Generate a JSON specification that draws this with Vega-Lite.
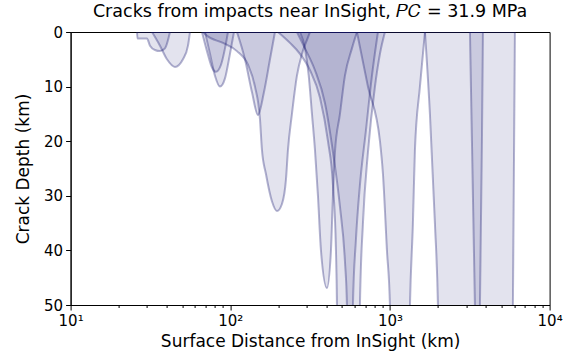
{
  "$schema": "https://vega.github.io/schema/vega-lite/v6.json",
  "width": 479,
  "height": 273,
  "autosize": {"type": "none"},
  "padding": {"left": 70.6, "top": 32, "right": 15.4, "bottom": 51},
  "background": "white",
  "title": {"text": "Cracks from impacts near InSight, 𝑃𝐶 = 31.9 MPa", "font": "DejaVu Sans", "fontSize": 17.5, "fontWeight": "normal", "color": "black", "anchor": "middle", "offset": 5},
  "config": {
    "view": {"stroke": "black", "strokeWidth": 1},
    "axis": {"domainColor": "black", "tickColor": "black", "labelColor": "black", "titleColor": "black", "labelFont": "DejaVu Sans", "titleFont": "DejaVu Sans", "labelFontSize": 15, "titleFontSize": 17, "titleFontWeight": "normal", "grid": false}
  },
  "data": {"values": [
    {"s": "A", "d": 26.05, "z": 0}, {"s": "A", "d": 26.24, "z": 1.2}, {"s": "A", "d": 30.09, "z": 1.2}, {"s": "A", "d": 31.42, "z": 2.5}, {"s": "A", "d": 33.77, "z": 3.3}, {"s": "A", "d": 36.29, "z": 3.5}, {"s": "A", "d": 39.0, "z": 3.0}, {"s": "A", "d": 41.92, "z": 0},
    {"s": "B", "d": 32.34, "z": 0}, {"s": "B", "d": 36.29, "z": 2.5}, {"s": "B", "d": 40.14, "z": 5}, {"s": "B", "d": 45.05, "z": 6.4}, {"s": "B", "d": 50.56, "z": 5}, {"s": "B", "d": 54.34, "z": 2.5}, {"s": "B", "d": 55.94, "z": 0},
    {"s": "C", "d": 66.49, "z": 0}, {"s": "C", "d": 71.47, "z": 3.5}, {"s": "C", "d": 76.8, "z": 6.5}, {"s": "C", "d": 81.37, "z": 7.3}, {"s": "C", "d": 87.49, "z": 6}, {"s": "C", "d": 92.66, "z": 3}, {"s": "C", "d": 96.74, "z": 0},
    {"s": "D", "d": 69.43, "z": 0}, {"s": "D", "d": 74.62, "z": 4}, {"s": "D", "d": 80.2, "z": 8}, {"s": "D", "d": 86.23, "z": 10}, {"s": "D", "d": 92.66, "z": 8.5}, {"s": "D", "d": 99.57, "z": 4}, {"s": "D", "d": 105.5, "z": 0},
    {"s": "E", "d": 110.1, "z": 0}, {"s": "E", "d": 123.6, "z": 5}, {"s": "E", "d": 136.7, "z": 11}, {"s": "E", "d": 149.1, "z": 15.2}, {"s": "E", "d": 162.6, "z": 11}, {"s": "E", "d": 177.3, "z": 5}, {"s": "E", "d": 190.5, "z": 0},
    {"s": "F", "d": 67.45, "z": 0}, {"s": "F", "d": 71.47, "z": 0.7}, {"s": "F", "d": 90.04, "z": 2}, {"s": "F", "d": 110.1, "z": 3.5}, {"s": "F", "d": 129.1, "z": 6}, {"s": "F", "d": 142.8, "z": 10}, {"s": "F", "d": 153.5, "z": 16}, {"s": "F", "d": 157.9, "z": 21.6}, {"s": "F", "d": 167.3, "z": 26}, {"s": "F", "d": 182.4, "z": 31}, {"s": "F", "d": 196.1, "z": 32.8}, {"s": "F", "d": 210.7, "z": 31.5}, {"s": "F", "d": 223.3, "z": 27}, {"s": "F", "d": 229.8, "z": 21.6}, {"s": "F", "d": 243.4, "z": 15}, {"s": "F", "d": 261.6, "z": 8}, {"s": "F", "d": 281.2, "z": 4}, {"s": "F", "d": 306.6, "z": 1}, {"s": "F", "d": 315.6, "z": 0},
    {"s": "G", "d": 273.2, "z": 0}, {"s": "G", "d": 293.6, "z": 3}, {"s": "G", "d": 310.0, "z": 8}, {"s": "G", "d": 324.8, "z": 15}, {"s": "G", "d": 339.2, "z": 21.6}, {"s": "G", "d": 354.1, "z": 30}, {"s": "G", "d": 369.8, "z": 40}, {"s": "G", "d": 403.2, "z": 46.9}, {"s": "G", "d": 427.2, "z": 40}, {"s": "G", "d": 439.7, "z": 30}, {"s": "G", "d": 452.5, "z": 22}, {"s": "G", "d": 486.4, "z": 15}, {"s": "G", "d": 522.6, "z": 8}, {"s": "G", "d": 578.1, "z": 3}, {"s": "G", "d": 621.4, "z": 0},
    {"s": "H", "d": 198.9, "z": 0}, {"s": "H", "d": 236.5, "z": 2}, {"s": "H", "d": 273.2, "z": 4}, {"s": "H", "d": 315.6, "z": 7}, {"s": "H", "d": 364.5, "z": 12}, {"s": "H", "d": 409.1, "z": 20}, {"s": "H", "d": 439.7, "z": 28}, {"s": "H", "d": 459.1, "z": 40}, {"s": "H", "d": 465.8, "z": 50}, {"s": "H", "d": 469.2, "z": 60}, {"s": "H", "d": 645, "z": 60}, {"s": "H", "d": 648.9, "z": 50}, {"s": "H", "d": 677.6, "z": 35}, {"s": "H", "d": 728.3, "z": 22}, {"s": "H", "d": 805.6, "z": 10}, {"s": "H", "d": 865.8, "z": 4}, {"s": "H", "d": 930.6, "z": 0},
    {"s": "I", "d": 261.6, "z": 0}, {"s": "I", "d": 293.6, "z": 3}, {"s": "I", "d": 339.2, "z": 7}, {"s": "I", "d": 391.7, "z": 13}, {"s": "I", "d": 439.7, "z": 22}, {"s": "I", "d": 486.4, "z": 32}, {"s": "I", "d": 522.6, "z": 42}, {"s": "I", "d": 537.9, "z": 50}, {"s": "I", "d": 545.7, "z": 60}, {"s": "I", "d": 580, "z": 60}, {"s": "I", "d": 586.6, "z": 50}, {"s": "I", "d": 612.5, "z": 38}, {"s": "I", "d": 648.9, "z": 28}, {"s": "I", "d": 707.6, "z": 18}, {"s": "I", "d": 771.5, "z": 8}, {"s": "I", "d": 841.2, "z": 0},
    {"s": "J", "d": 621.4, "z": 0}, {"s": "J", "d": 728.3, "z": 10}, {"s": "J", "d": 865.8, "z": 20}, {"s": "J", "d": 904.1, "z": 26}, {"s": "J", "d": 957.7, "z": 40}, {"s": "J", "d": 1000, "z": 50}, {"s": "J", "d": 1015, "z": 60}, {"s": "J", "d": 1315, "z": 60}, {"s": "J", "d": 1335, "z": 50}, {"s": "J", "d": 1393, "z": 35}, {"s": "J", "d": 1434, "z": 21.6}, {"s": "J", "d": 1541, "z": 10}, {"s": "J", "d": 1657, "z": 0},
    {"s": "K", "d": 1657, "z": 0}, {"s": "K", "d": 1780, "z": 15}, {"s": "K", "d": 1913, "z": 35}, {"s": "K", "d": 1998, "z": 50}, {"s": "K", "d": 2027, "z": 60}, {"s": "K", "d": 3609, "z": 60}, {"s": "K", "d": 3662, "z": 50}, {"s": "K", "d": 3769, "z": 20}, {"s": "K", "d": 3824, "z": 0},
    {"s": "L", "d": 3170, "z": 0}, {"s": "L", "d": 3263, "z": 20}, {"s": "L", "d": 3406, "z": 50}, {"s": "L", "d": 3456, "z": 60}, {"s": "L", "d": 5806, "z": 60}, {"s": "L", "d": 5891, "z": 50}, {"s": "L", "d": 6065, "z": 0}
  ]},
  "mark": {"type": "area", "interpolate": "monotone", "clip": true, "fill": "#191970", "fillOpacity": 0.12, "stroke": "#191970", "strokeOpacity": 0.33, "strokeWidth": 2},
  "encoding": {
    "x": {
      "field": "d", "type": "quantitative",
      "scale": {"type": "log", "domain": [10, 10000], "nice": false},
      "axis": {
        "title": "Surface Distance from InSight (km)",
        "values": [10, 20, 30, 40, 50, 60, 70, 80, 90, 100, 200, 300, 400, 500, 600, 700, 800, 900, 1000, 2000, 3000, 4000, 5000, 6000, 7000, 8000, 9000, 10000],
        "labelExpr": "datum.value == 10 ? '10¹' : datum.value == 100 ? '10²' : datum.value == 1000 ? '10³' : datum.value == 10000 ? '10⁴' : ''",
        "tickSize": {"condition": {"test": "indexof([10, 100, 1000, 10000], datum.value) >= 0", "value": 5}, "value": 2.5},
        "labelPadding": 3,
        "titlePadding": 5,
        "labelFlush": false,
        "labelOverlap": false
      }
    },
    "y": {
      "field": "z", "type": "quantitative",
      "scale": {"domain": [0, 50], "reverse": true, "nice": false},
      "axis": {"title": "Crack Depth (km)", "values": [0, 10, 20, 30, 40, 50], "tickSize": 5, "labelPadding": 3, "titlePadding": 11}
    },
    "y2": {"datum": 0},
    "detail": {"field": "s"}
  }
}
